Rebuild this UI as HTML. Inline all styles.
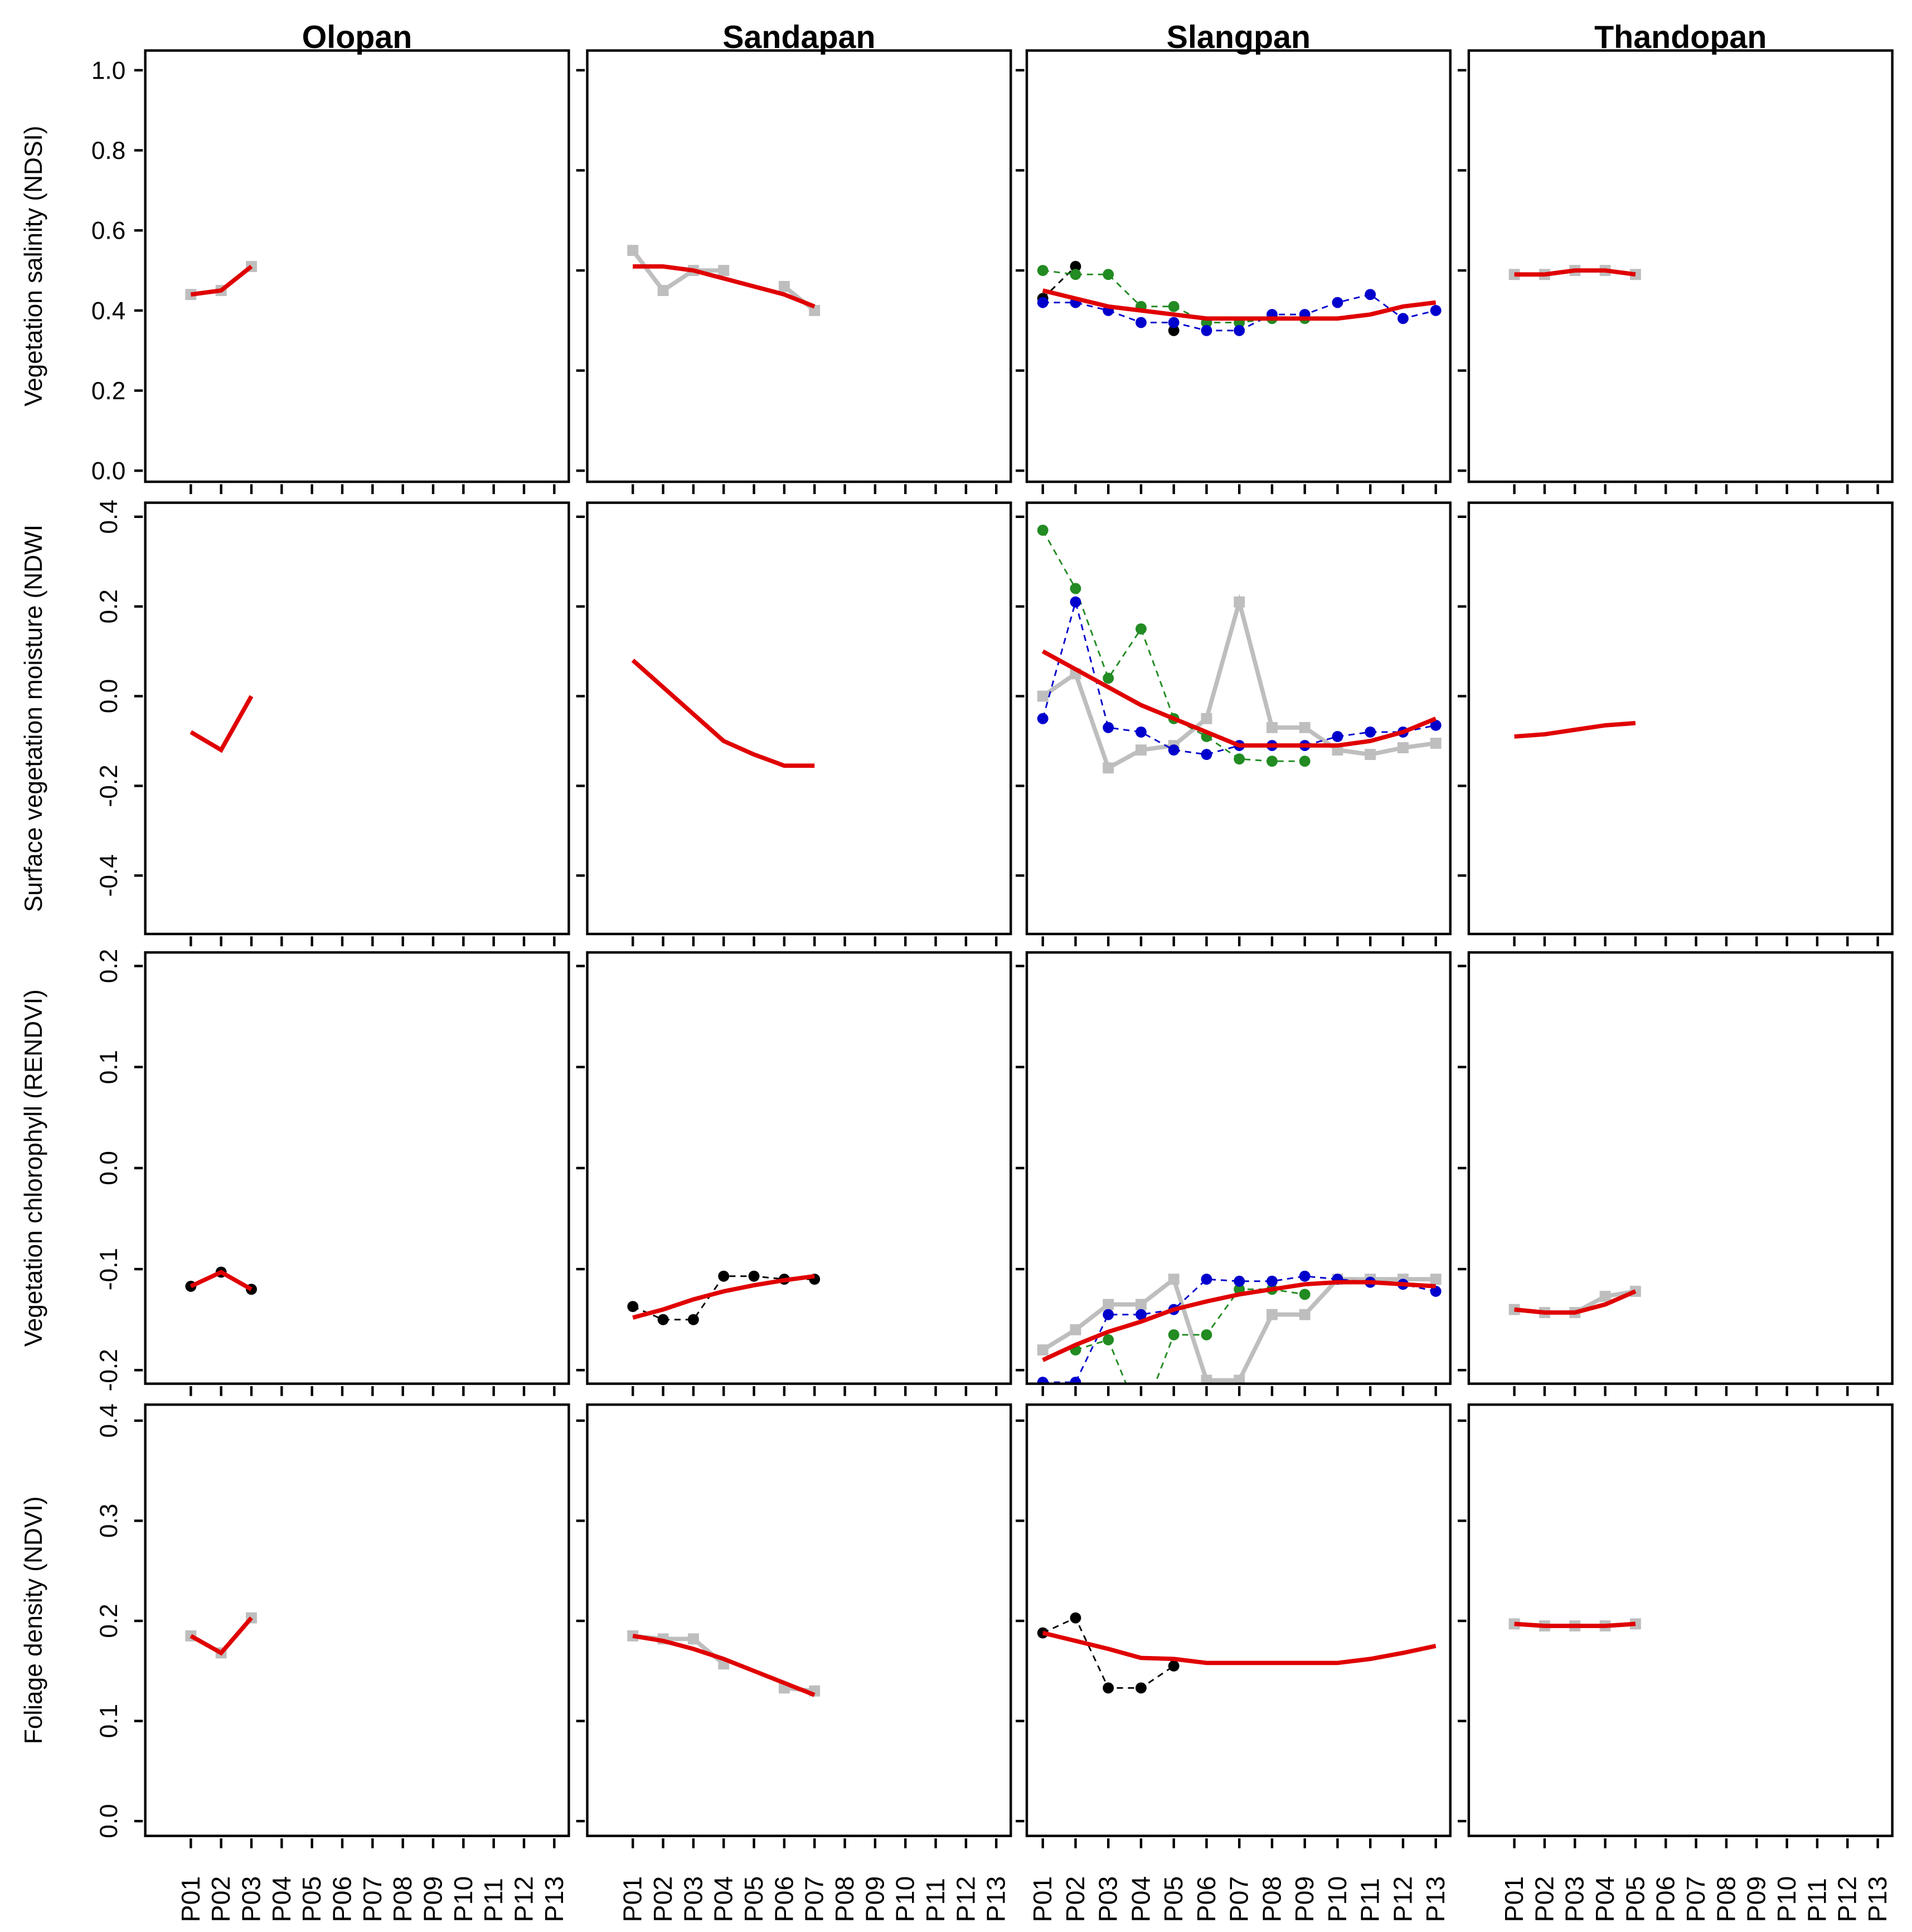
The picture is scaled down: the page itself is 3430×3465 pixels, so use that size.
<!DOCTYPE html>
<html><head><meta charset="utf-8">
<style>
html,body{margin:0;padding:0;background:#fff;}
svg{display:block;}
text{font-family:"Liberation Sans",Arial,sans-serif;}
</style></head>
<body>
<svg id="chart" xmlns="http://www.w3.org/2000/svg" width="3430" height="3465" viewBox="0 0 1553 1568" preserveAspectRatio="none"></svg>
<script>
// ---- data ----
const sites = ["Olopan","Sandapan","Slangpan","Thandopan"];
const plots = ["P01","P02","P03","P04","P05","P06","P07","P08","P09","P10","P11","P12","P13"];
const indexNames = ["Vegetation salinity (NDSI)","Surface vegetation moisture (NDWI","Vegetation chlorophyll (RENDVI)","Foliage density (NDVI)"];
const yTicksNDSI = [0.0,0.2,0.4,0.6,0.8,1.0];
const yTicksNDWI = [-0.4,-0.2,0.0,0.2,0.4];
const yTicksRENDVI = [-0.2,-0.1,0.0,0.1,0.2];
const yTicksNDVI = [0.0,0.1,0.2,0.3,0.4];
const yTickLabelsNDSI = ["0.0","0.2","0.4","0.6","0.8","1.0"];
const yTickLabelsNDWI = ["-0.4","-0.2","0.0","0.2","0.4"];
const yTickLabelsRENDVI = ["-0.2","-0.1","0.0","0.1","0.2"];
const yTickLabelsNDVI = ["0.0","0.1","0.2","0.3","0.4"];

// NDSI
const ndsiOloGray = [0.44,0.45,0.51];
const ndsiOloFit = [0.44,0.45,0.51];
const ndsiSanGray = [0.55,0.45,0.50,0.50,null,0.46,0.40];
const ndsiSanFit = [0.51,0.51,0.50,0.48,0.46,0.44,0.41];
const ndsiSlaBlack = [0.43,0.51,null,null,0.35];
const ndsiSlaGreen = [0.50,0.49,0.49,0.41,0.41,0.37,0.37,0.38,0.38];
const ndsiSlaBlue = [0.42,0.42,0.40,0.37,0.37,0.35,0.35,0.39,0.39,0.42,0.44,0.38,0.40];
const ndsiSlaFit = [0.45,0.43,0.41,0.40,0.39,0.38,0.38,0.38,0.38,0.38,0.39,0.41,0.42];
const ndsiThaGray = [0.49,0.49,0.50,0.50,0.49];
const ndsiThaFit = [0.49,0.49,0.50,0.50,0.49];
// NDWI
const ndwiOloFit = [-0.08,-0.12,0.0];
const ndwiSanFit = [0.08,0.02,-0.04,-0.10,-0.13,-0.155,-0.155];
const ndwiSlaGray = [0.00,0.05,-0.16,-0.12,-0.11,-0.05,0.21,-0.07,-0.07,-0.12,-0.13,-0.115,-0.105];
const ndwiSlaGreen = [0.37,0.24,0.04,0.15,-0.05,-0.09,-0.14,-0.145,-0.145];
const ndwiSlaBlue = [-0.05,0.21,-0.07,-0.08,-0.12,-0.13,-0.11,-0.11,-0.11,-0.09,-0.08,-0.08,-0.065];
const ndwiSlaFit = [0.10,0.06,0.02,-0.02,-0.05,-0.08,-0.11,-0.11,-0.11,-0.11,-0.10,-0.08,-0.05];
const ndwiThaFit = [-0.09,-0.085,-0.075,-0.065,-0.06];
// RENDVI
const rendOloBlack = [-0.117,-0.103,-0.12];
const rendOloFit = [-0.117,-0.103,-0.12];
const rendSanBlack = [-0.137,-0.15,-0.15,-0.107,-0.107,-0.11,-0.11];
const rendSanFit = [-0.148,-0.14,-0.13,-0.122,-0.116,-0.111,-0.107];
const rendSlaGray = [-0.18,-0.16,-0.135,-0.135,-0.11,-0.21,-0.21,-0.145,-0.145,-0.11,-0.11,-0.11,-0.11];
const rendSlaGreen = [null,-0.18,-0.17,-0.25,-0.165,-0.165,-0.12,-0.12,-0.125];
const rendSlaBlue = [-0.212,-0.212,-0.145,-0.145,-0.14,-0.11,-0.112,-0.112,-0.107,-0.11,-0.113,-0.115,-0.122];
const rendSlaFit = [-0.19,-0.175,-0.162,-0.152,-0.14,-0.132,-0.125,-0.12,-0.115,-0.113,-0.113,-0.115,-0.117];
const rendThaGray = [-0.14,-0.143,-0.143,-0.127,-0.122];
const rendThaFit = [-0.14,-0.143,-0.143,-0.135,-0.122];
// NDVI
const ndviOloGray = [0.185,0.168,0.203];
const ndviOloFit = [0.185,0.168,0.203];
const ndviSanGray = [0.185,0.182,0.182,0.157,null,0.133,0.13];
const ndviSanFit = [0.185,0.18,0.172,0.162,0.15,0.138,0.126];
const ndviSlaBlack = [0.188,0.203,0.133,0.133,0.155];
const ndviSlaFit = [0.188,0.18,0.172,0.163,0.162,0.158,0.158,0.158,0.158,0.158,0.162,0.168,0.175];
const ndviThaGray = [0.197,0.195,0.195,0.195,0.197];
const ndviThaFit = [0.197,0.195,0.195,0.195,0.197];

// ---- layout ----
const NS="http://www.w3.org/2000/svg";
const svg=document.getElementById('chart');
const colX=[118,477,834,1193], PW=344;
const rowY=[41,408,773,1140], PH=350;
const xStart=[155,514,847,1230], xStep=[24.6,24.6,26.6,24.6];
const yAxes=[
 {y0:382,ppu:325,ticks:yTicksNDSI,labels:yTickLabelsNDSI,rot:false,inner:[0,0.25,0.5,0.75,1.0]},
 {y0:565,ppu:364,ticks:yTicksNDWI,labels:yTickLabelsNDWI,rot:true,inner:yTicksNDWI},
 {y0:948,ppu:820,ticks:yTicksRENDVI,labels:yTickLabelsRENDVI,rot:true,inner:yTicksRENDVI},
 {y0:1478,ppu:812.5,ticks:yTicksNDVI,labels:yTickLabelsNDVI,rot:true,inner:yTicksNDVI}
];
function xs(c,i){return xStart[c]+i*xStep[c];}
function ys(r,v){return yAxes[r].y0-v*yAxes[r].ppu;}
function mk(tag,attrs,parent){const e=document.createElementNS(NS,tag);for(const k in attrs)e.setAttribute(k,attrs[k]);(parent||svg).appendChild(e);return e;}

const panelSeries=[
 [ [{d:ndsiOloGray,t:'gray'},{d:ndsiOloFit,t:'fit'}],
   [{d:ndsiSanGray,t:'gray'},{d:ndsiSanFit,t:'fit'}],
   [{d:ndsiSlaBlack,t:'black'},{d:ndsiSlaGreen,t:'green'},{d:ndsiSlaBlue,t:'blue'},{d:ndsiSlaFit,t:'fit'}],
   [{d:ndsiThaGray,t:'gray'},{d:ndsiThaFit,t:'fit'}] ],
 [ [{d:ndwiOloFit,t:'fit'}],
   [{d:ndwiSanFit,t:'fit'}],
   [{d:ndwiSlaGray,t:'gray'},{d:ndwiSlaGreen,t:'green'},{d:ndwiSlaBlue,t:'blue'},{d:ndwiSlaFit,t:'fit'}],
   [{d:ndwiThaFit,t:'fit'}] ],
 [ [{d:rendOloBlack,t:'black'},{d:rendOloFit,t:'fit'}],
   [{d:rendSanBlack,t:'black'},{d:rendSanFit,t:'fit'}],
   [{d:rendSlaGray,t:'gray'},{d:rendSlaGreen,t:'green'},{d:rendSlaBlue,t:'blue'},{d:rendSlaFit,t:'fit'}],
   [{d:rendThaGray,t:'gray'},{d:rendThaFit,t:'fit'}] ],
 [ [{d:ndviOloGray,t:'gray'},{d:ndviOloFit,t:'fit'}],
   [{d:ndviSanGray,t:'gray'},{d:ndviSanFit,t:'fit'}],
   [{d:ndviSlaBlack,t:'black'},{d:ndviSlaFit,t:'fit'}],
   [{d:ndviThaGray,t:'gray'},{d:ndviThaFit,t:'fit'}] ]
];
const colors={gray:'#bebebe',black:'#000',green:'#228b22',blue:'#0000cd',fit:'#e00000'};

const defs=mk('defs',{});
for(let r=0;r<4;r++)for(let c=0;c<4;c++){
  const cp=mk('clipPath',{id:'clip'+r+c},defs);
  mk('rect',{x:colX[c],y:rowY[r],width:PW,height:PH},cp);
}

sites.forEach((s,c)=>{
  const t=mk('text',{x:colX[c]+PW/2,y:39,'text-anchor':'middle','font-size':26,'font-weight':'bold',fill:'#000'});
  
  
  t.textContent=s;
});

indexNames.forEach((n,r)=>{
  const cy=rowY[r]+PH/2;
  const t=mk('text',{x:0,y:0,transform:`translate(34,${cy}) rotate(-90)`,'text-anchor':'middle','font-size':20,fill:'#000'});
  
  
  t.textContent=n;
});

for(let r=0;r<4;r++){
  const ax=yAxes[r];
  ax.ticks.forEach((v,i)=>{
    const y=ys(r,v);
    const tk=mk('line',{x1:colX[0]-9,x2:colX[0]-2,y1:y,y2:y,stroke:'#000','stroke-width':2});
    
    
    let lb;
    if(ax.rot){
      lb=mk('text',{x:0,y:0,transform:`translate(${colX[0]-23},${y}) rotate(-90)`,'text-anchor':'middle','font-size':20,fill:'#000'});
    }else{
      lb=mk('text',{x:colX[0]-16,y:y+7,'text-anchor':'end','font-size':20,fill:'#000'});
    }
    
    
    lb.textContent=ax.labels[i];
  });
  for(let c=0;c<4;c++){
    const g=mk('g',{});
    
    
    if(c>0){
      ax.inner.forEach(v=>{
        const y=ys(r,v);
        const tk=mk('line',{x1:colX[c]-9,x2:colX[c]-2,y1:y,y2:y,stroke:'#000','stroke-width':2},g);
        
        
      });
    }
    plots.forEach((p,i)=>{
      const x=xs(c,i);
      const tk=mk('line',{x1:x,x2:x,y1:rowY[r]+PH+2,y2:rowY[r]+PH+10,stroke:'#000','stroke-width':2},g);
      
      
      if(r===3){
        const lb=mk('text',{x:0,y:0,transform:`translate(${x+7},${rowY[r]+PH+70}) rotate(-90)`,'text-anchor':'start','font-size':21,fill:'#000'},g);
        
        
        lb.textContent=p;
      }
    });
    const sg=mk('g',{'clip-path':`url(#clip${r}${c})`},g);
    panelSeries[r][c].forEach(s=>{
      const col=colors[s.t];
      let segs=[],cur=[];
      s.d.forEach((v,i)=>{ if(v===null){ if(cur.length)segs.push(cur); cur=[]; } else cur.push([xs(c,i),ys(r,v)]); });
      if(cur.length)segs.push(cur);
      segs.forEach(seg=>{
        const pts=seg.map(p=>p.join(',')).join(' ');
        let attrs={points:pts,fill:'none',stroke:col};
        if(s.t==='fit'||s.t==='gray'){attrs['stroke-width']=3.5;}
        else {attrs['stroke-width']=1.3;attrs['stroke-dasharray']='5,4';}
        const pl=mk('polyline',attrs,sg);
        
        
        if(s.t!=='fit'){
          seg.forEach(p=>{
            let m;
            if(s.t==='gray') m=mk('rect',{x:p[0]-4.5,y:p[1]-4.5,width:9,height:9,fill:col},sg);
            else m=mk('circle',{cx:p[0],cy:p[1],r:4.5,fill:col},sg);
            
            
          });
        }
      });
    });
    const fr=mk('rect',{x:colX[c],y:rowY[r],width:PW,height:PH,fill:'none',stroke:'#000','stroke-width':2},g);
    
    
  }
}
</script>
</body></html>
